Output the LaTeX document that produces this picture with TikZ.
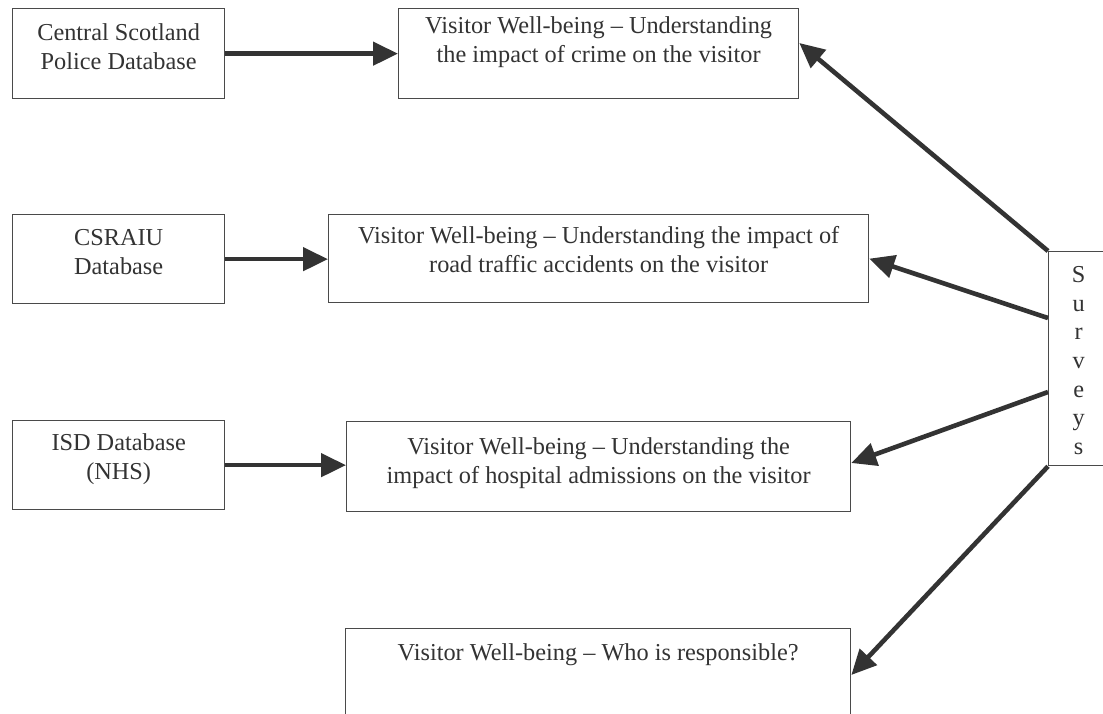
\documentclass[tikz,border=0pt]{standalone}
\usepackage{fontspec}
\setmainfont{Liberation Serif}
\usetikzlibrary{arrows.meta}
\definecolor{ink}{HTML}{333333}
\definecolor{framegray}{HTML}{4A4A4A}
% text box: [first baseline below top]{width}{height}{lines}
\newcommand{\boxtxt}[4][30pt]{\parbox[c][#3][t]{#2}{\centering\rule{0pt}{#1}#4}}
\tikzset{
  box/.style={draw=framegray, line width=1.3pt, inner sep=0pt, anchor=north west,
              text=ink, font=\fontsize{24.3}{28.6}\selectfont},
  flow/.style={draw=ink, line width=4.6pt,
               -{Triangle[length=25pt,width=23pt]}, color=ink}
}
\begin{document}
\begin{tikzpicture}[x=1pt,y=-1pt]
\useasboundingbox (0,0) rectangle (1103,713);
\clip (0,0) rectangle (1103,713);
\fill[white] (0,0) rectangle (1103,713);

% data sources
\node[box] (police) at (12,8)   {\boxtxt[32pt]{212pt}{90pt}{Central Scotland\\Police Database}};
\node[box] (csraiu) at (12,214) {\boxtxt[31pt]{212pt}{89pt}{CSRAIU\\Database}};
\node[box] (isd)    at (12,420) {\boxtxt[30pt]{212pt}{89pt}{ISD Database\\(NHS)}};

% well-being themes
\node[box] (crime)  at (398,8)   {\boxtxt[25pt]{400pt}{90pt}{Visitor Well-being -- Understanding\\the impact of crime on the visitor}};
\node[box] (road)   at (328,214) {\boxtxt[29pt]{540pt}{88pt}{Visitor Well-being -- Understanding the impact of\\road traffic accidents on the visitor}};
\node[box] (hosp)   at (346,421) {\boxtxt[33pt]{504pt}{90pt}{Visitor Well-being -- Understanding the\\impact of hospital admissions on the visitor}};
\node[box] (resp)   at (345,628) {\boxtxt[32pt]{505pt}{110pt}{Visitor Well-being -- Who is responsible?}};

% surveys
\node[box] (surveys) at (1048,251) {\parbox[c][214pt][t]{60pt}{\centering\rule{0pt}{31pt}S\\u\\r\\v\\e\\y\\s}};

% source to theme
\draw[flow] (police.east) -- (police.east -| crime.west);
\draw[flow] (csraiu.east) -- (csraiu.east -| road.west);
\draw[flow] (isd.east)    -- (isd.east -| hosp.west);

% surveys to themes
\draw[flow] (surveys.north west) -- ([yshift=-35pt]crime.north east);
\draw[flow] ([yshift=-67pt]surveys.north west) -- (road.east);
\draw[flow] ([yshift=-141pt]surveys.north west) -- ([yshift=-42pt]hosp.north east);
\draw[flow] (surveys.south west) -- ([yshift=-47pt]resp.north east);
\end{tikzpicture}
\end{document}
